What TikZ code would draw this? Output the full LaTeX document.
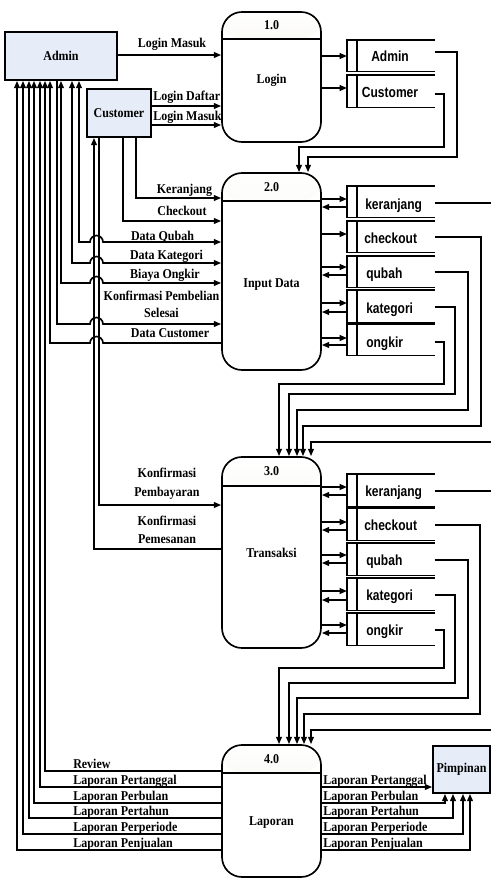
\documentclass[tikz,border=0pt]{standalone}
\usepackage{fontspec}
\setmainfont{Liberation Serif}[FakeStretch=0.89]
\newfontfamily\storefont{Liberation Sans}[FakeStretch=0.82]
\usetikzlibrary{arrows.meta}
\definecolor{entfill}{RGB}{231,237,248}
\definecolor{hdrfill}{RGB}{232,230,212}
\tikzset{
  every node/.style={font=\bfseries\fontsize{10.1}{11.5}\selectfont, inner sep=0pt},
  flow/.style={line width=1.25pt},
  tipx/.tip={Triangle[length=5.5pt,width=4.3pt]},
  arr/.style={flow,-tipx},
  barr/.style={flow,tipx-tipx},
  rarr/.style={flow,tipx-},
  entity/.style={draw, line width=1.25pt, fill=entfill},
  proc/.style={draw, line width=1.25pt, rounded corners=15pt, minimum width=74.25pt,
    path picture={
      \shade[top color=white,bottom color=hdrfill] (path picture bounding box.north west) rectangle ([yshift=-#1*0.75pt]path picture bounding box.north east);
      \draw[line width=1.25pt] ([yshift=-#1*0.75pt]path picture bounding box.north west) -- ([yshift=-#1*0.75pt]path picture bounding box.north east);
    }},
  slabel/.style={font=\storefont\bfseries\fontsize{11}{12}\selectfont},
}
\newcommand{\dstore}[3]{%
  \node[minimum width=65.25pt, minimum height={#3*0.75pt}, anchor=north west] (#1) at (347,#2) {};
  \draw[line width=1.25pt] (#1.north east) -- (#1.north west) -- (#1.south west) -- (#1.south east)
     ([xshift=7.5pt]#1.north west) -- ([xshift=7.5pt]#1.south west);
}
\begin{document}
\begin{tikzpicture}[x=0.75pt,y=-0.75pt]
\useasboundingbox (0,0) rectangle (491,879);
\clip (0,0) rectangle (491,879);

% processes
\node[proc=27, minimum height=97.5pt] (p1) at (271.5,77) {};
\node[proc=28, minimum height=147.75pt] (p2) at (271.5,271.5) {};
\node[proc=29, minimum height=143.25pt] (p3) at (271.5,552.5) {};
\node[proc=28, minimum height=99pt] (p4) at (271.5,811) {};
\node (n1) at (271.5,25.5) {1.0};
\node (t1) at (271.5,80) {Login};
\node (n2) at (271.5,187) {2.0};
\node (t2) at (271.5,285) {Input Data};
\node (n3) at (271.5,471.5) {3.0};
\node (t3) at (271.5,553) {Transaksi};
\node (n4) at (271.5,759) {4.0};
\node (t4) at (271.5,823) {Laporan};

% entities
\node[entity, minimum width=84pt, minimum height=36pt] (adm) at (61,56) {Admin};
\node[entity, minimum width=48pt, minimum height=36pt] (cus) at (119,113) {Customer};
\node[entity, minimum width=42.75pt, minimum height=35.25pt] (pim) at (461.5,769.5) {Pimpinan};

% data stores
\dstore{s11}{40}{31}
\dstore{s12}{75}{32}
\node[slabel, anchor=base] (ls11) at (390,61) {Admin};
\node[slabel, anchor=base] (ls12) at (390,97) {Customer};

\dstore{s21}{186}{31}
\dstore{s22}{221}{31}
\dstore{s23}{256}{31}
\dstore{s24}{290}{32}
\dstore{s25}{324}{31}
\node[slabel, anchor=base west] (ls21) at (365,209) {keranjang};
\node[slabel, anchor=base west] (ls22) at (364,243) {checkout};
\node[slabel, anchor=base west] (ls23) at (366,278) {qubah};
\node[slabel, anchor=base west] (ls24) at (366,313) {kategori};
\node[slabel, anchor=base west] (ls25) at (366,347) {ongkir};

\dstore{s31}{474}{32}
\dstore{s32}{508}{32}
\dstore{s33}{543}{32}
\dstore{s34}{578}{32}
\dstore{s35}{613}{32}
\node[slabel, anchor=base west] (ls31) at (365,496) {keranjang};
\node[slabel, anchor=base west] (ls32) at (364,530) {checkout};
\node[slabel, anchor=base west] (ls33) at (366,565) {qubah};
\node[slabel, anchor=base west] (ls34) at (366,600) {kategori};
\node[slabel, anchor=base west] (ls35) at (366,635) {ongkir};

% login flows
\draw[arr] (adm.east |- 0,55) -- (p1.west |- 0,55);
\node[anchor=base] (l1) at (172,47) {Login Masuk};
\draw[arr] (cus.east |- 0,106) -- (p1.west |- 0,106);
\draw[arr] (cus.east |- 0,125) -- (p1.west |- 0,125);
\node[anchor=base west] (l2) at (153,100) {Login Daftar};
\node[anchor=base west] (l3) at (153,120) {Login Masuk};

% 1.0 <-> stores
\draw[arr] (p1.east |- 0,56) -- (s11.west |- 0,56);
\draw[arr] (p1.east |- 0,88) -- (s12.west |- 0,88);
\draw[arr] (s11.east |- 0,52) -- (457,52) -- (457,157) -- (308,157) -- (p2.north -| 308,0);
\draw[arr] (s12.east |- 0,94) -- (444,94) -- (444,147) -- (299,147) -- (p2.north -| 299,0);

% customer -> 2.0
\draw[arr] (cus.south -| 136,0) -- (136,198) -- (p2.west |- 0,198);
\draw[arr] (cus.south -| 123,0) -- (123,221) -- (p2.west |- 0,221);
\node[anchor=base] (l4) at (184.5,193) {Keranjang};
\node[anchor=base] (l5) at (182,215) {Checkout};

% customer <-> 3.0
\draw[arr] (cus.south -| 99,0) -- (99,505) -- (p3.west |- 0,505);
\draw[rarr] (cus.south -| 94,0) -- (94,549) -- (p3.west |- 0,549);
\node[anchor=base] (l6) at (167,477) {Konfirmasi};
\node[anchor=base] (l7) at (167,496) {Pembayaran};
\node[anchor=base] (l8) at (167,525) {Konfirmasi};
\node[anchor=base] (l9) at (167,543) {Pemesanan};

% admin <-> 2.0 (with hops)
\draw[barr] (adm.south -| 79,0) -- (79,242) -- (90,242) arc[start angle=180,end angle=0,radius=4.875pt] -- (p2.west |- 0,242);
\draw[barr] (adm.south -| 72,0) -- (72,263) -- (90,263) arc[start angle=180,end angle=0,radius=4.875pt] -- (p2.west |- 0,263);
\draw[barr] (adm.south -| 61,0) -- (61,283) -- (90,283) arc[start angle=180,end angle=0,radius=4.875pt] -- (p2.west |- 0,283);
\draw[arr] (adm.south -| 57,0) -- (57,324) -- (90,324) arc[start angle=180,end angle=0,radius=4.875pt] -- (p2.west |- 0,324);
\draw[rarr] (adm.south -| 50,0) -- (50,343) -- (90,343) arc[start angle=180,end angle=0,radius=4.875pt] -- (p2.west |- 0,343);
\node[anchor=base] (l10) at (162.5,240) {Data Qubah};
\node[anchor=base] (l11) at (166.5,259) {Data Kategori};
\node[anchor=base] (l12) at (165,278) {Biaya Ongkir};
\node[anchor=base] (l13) at (161.5,300) {Konfirmasi Pembelian};
\node[anchor=base] (l14) at (161.5,317) {Selesai};
\node[anchor=base] (l15) at (170,337) {Data Customer};

% 2.0 <-> stores
\draw[arr] (p2.east |- 0,199) -- (s21.west |- 0,199);
\draw[rarr] (p2.east |- 0,207) -- (s21.west |- 0,207);
\draw[arr] (p2.east |- 0,234) -- (s22.west |- 0,234);
\draw[arr] (p2.east |- 0,267) -- (s23.west |- 0,267);
\draw[rarr] (p2.east |- 0,275) -- (s23.west |- 0,275);
\draw[arr] (p2.east |- 0,303) -- (s24.west |- 0,303);
\draw[rarr] (p2.east |- 0,312) -- (s24.west |- 0,312);
\draw[arr] (p2.east |- 0,338) -- (s25.west |- 0,338);
\draw[rarr] (p2.east |- 0,345) -- (s25.west |- 0,345);

% 2.0 stores -> 3.0
\coordinate (e1) at (491,203);
\coordinate (e2) at (491,442);
\draw[flow] (s21.east |- 0,203) -- (e1);
\draw[arr] (e2) -- (311,442) -- (p3.north -| 311,0);
\draw[arr] (s22.east |- 0,237) -- (481,237) -- (481,426) -- (303,426) -- (p3.north -| 303,0);
\draw[arr] (s23.east |- 0,272) -- (468,272) -- (468,410) -- (297,410) -- (p3.north -| 297,0);
\draw[arr] (s24.east |- 0,307) -- (455,307) -- (455,394) -- (289,394) -- (p3.north -| 289,0);
\draw[arr] (s25.east |- 0,342) -- (444,342) -- (444,384) -- (279,384) -- (p3.north -| 279,0);

% 3.0 <-> stores
\draw[arr] (p3.east |- 0,487) -- (s31.west |- 0,487);
\draw[rarr] (p3.east |- 0,495) -- (s31.west |- 0,495);
\draw[arr] (p3.east |- 0,522) -- (s32.west |- 0,522);
\draw[rarr] (p3.east |- 0,530) -- (s32.west |- 0,530);
\draw[arr] (p3.east |- 0,555) -- (s33.west |- 0,555);
\draw[rarr] (p3.east |- 0,563) -- (s33.west |- 0,563);
\draw[arr] (p3.east |- 0,591) -- (s34.west |- 0,591);
\draw[rarr] (p3.east |- 0,600) -- (s34.west |- 0,600);
\draw[arr] (p3.east |- 0,625) -- (s35.west |- 0,625);
\draw[rarr] (p3.east |- 0,633) -- (s35.west |- 0,633);

% 3.0 stores -> 4.0
\coordinate (e3) at (491,491);
\coordinate (e4) at (491,730);
\draw[flow] (s31.east |- 0,491) -- (e3);
\draw[arr] (e4) -- (311,730) -- (p4.north -| 311,0);
\draw[arr] (s32.east |- 0,525) -- (480,525) -- (480,714) -- (304,714) -- (p4.north -| 304,0);
\draw[arr] (s33.east |- 0,560) -- (468,560) -- (468,698) -- (297,698) -- (p4.north -| 297,0);
\draw[arr] (s34.east |- 0,595) -- (455,595) -- (455,683) -- (289,683) -- (p4.north -| 289,0);
\draw[arr] (s35.east |- 0,630) -- (444,630) -- (444,668) -- (279,668) -- (p4.north -| 279,0);

% 4.0 -> admin
\draw[rarr] (adm.south -| 45,0) -- (45,771) -- (p4.west |- 0,771);
\draw[rarr] (adm.south -| 40,0) -- (40,787) -- (p4.west |- 0,787);
\draw[rarr] (adm.south -| 34,0) -- (34,803) -- (p4.west |- 0,803);
\draw[rarr] (adm.south -| 29,0) -- (29,818) -- (p4.west |- 0,818);
\draw[rarr] (adm.south -| 23,0) -- (23,834) -- (p4.west |- 0,834);
\draw[rarr] (adm.south -| 17,0) -- (17,850) -- (p4.west |- 0,850);
\node[anchor=base west] (r0) at (73,768) {Review};
\node[anchor=base west] (r1) at (73,784) {Laporan Pertanggal};
\node[anchor=base west] (r2) at (73,800) {Laporan Perbulan};
\node[anchor=base west] (r3) at (73,815) {Laporan Pertahun};
\node[anchor=base west] (r4) at (73,831) {Laporan Perperiode};
\node[anchor=base west] (r5) at (73,847) {Laporan Penjualan};

% 4.0 -> pimpinan
\draw[arr] (p4.east |- 0,787) -- (pim.west |- 0,787);
\draw[arr] (p4.east |- 0,803) -- (445,803) -- (pim.south -| 445,0);
\draw[arr] (p4.east |- 0,818) -- (453,818) -- (pim.south -| 453,0);
\draw[arr] (p4.east |- 0,834) -- (463,834) -- (pim.south -| 463,0);
\draw[arr] (p4.east |- 0,850) -- (470,850) -- (pim.south -| 470,0);
\node[anchor=base west] (q1) at (323,784) {Laporan Pertanggal};
\node[anchor=base west] (q2) at (323,800) {Laporan Perbulan};
\node[anchor=base west] (q3) at (323,815) {Laporan Pertahun};
\node[anchor=base west] (q4) at (323,831) {Laporan Perperiode};
\node[anchor=base west] (q5) at (323,847) {Laporan Penjualan};
\end{tikzpicture}
\end{document}
